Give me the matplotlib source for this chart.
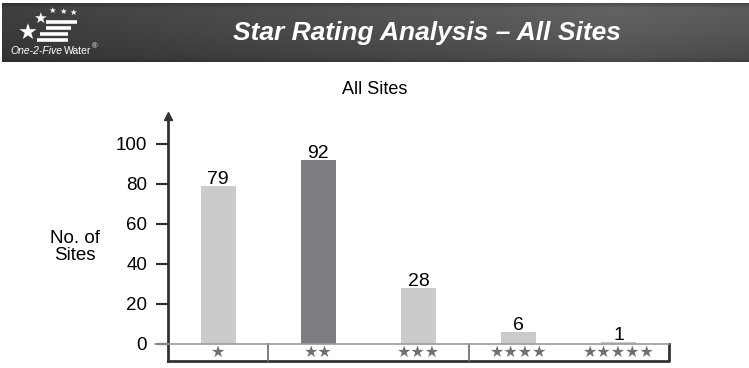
import numpy as np
import matplotlib
matplotlib.use("Agg")
import matplotlib.pyplot as plt

plt.rcParams["font.family"] = ["Liberation Sans", "DejaVu Sans"]

# star-rating counts, all sites
ratings = [1, 2, 3, 4, 5]
sites = [79, 92, 28, 6, 1]
bar_colors = ["#cbcbcb", "#7e7e82", "#cbcbcb", "#cbcbcb", "#cbcbcb"]
yticks = [0, 20, 40, 60, 80, 100]
title = "Star Rating Analysis – All Sites"
subtitle = "All Sites"

W, H = 749, 368
fig = plt.figure(figsize=(W / 100, H / 100), dpi=100)

# ---- header band (pixel coordinates) ----
bg = fig.add_axes([0, 0, 1, 1], zorder=0)
bg.set_xlim(0, W)
bg.set_ylim(H, 0)
bg.axis("off")
xs = np.linspace(0, 1, W)
ys = np.linspace(0, 1, 60)
shade_x = np.interp(xs, [0, 0.4, 0.82, 1], [0.23, 0.29, 0.36, 0.33])
shade_y = np.interp(ys, [0, 0.08, 0.5, 0.92, 1], [0.85, 1.08, 1.0, 0.88, 0.75])
band = np.clip(shade_y[:, None] * shade_x[None, :], 0, 1)
bg.imshow(np.dstack([band, band, band]), extent=(2, W, 62, 3), aspect="auto", interpolation="bilinear")

# logo: stars and stripes
for (x, y, s) in [(28, 34, 16), (40, 19, 11), (52, 11, 6), (63, 12, 6), (73, 13, 6)]:
    bg.text(x, y, "★", color="white", fontsize=s, ha="center", va="center")
for (x0, x1, y) in [(46, 77, 22), (46, 71, 28), (40, 68, 34), (37, 68, 40)]:
    bg.plot([x0, x1], [y, y], color="white", lw=2.6, solid_capstyle="butt")
t1 = bg.text(10, 54, "One-2-Five", color="white", fontsize=7.5, style="italic", va="baseline")
t2 = bg.annotate("Water", xy=(1, 0), xycoords=t1, xytext=(1.2, 0), textcoords="offset points",
                 color="white", fontsize=7.5, va="bottom")
bg.annotate("®", xy=(1, 1), xycoords=t2, xytext=(0.3, 2), textcoords="offset points",
            color="white", fontsize=5.5, va="top")
bg.text(427, 33, title, color="white", fontsize=19, weight="bold", style="italic",
        ha="center", va="center")

fig.text(374.5 / W, 1 - 90 / H, subtitle, ha="center", va="center", fontsize=13)
fig.text(75 / W, 1 - 247 / H, "No. of\nSites", ha="center", va="center", fontsize=13.5,
         linespacing=1.0)

# ---- chart ----
left, right, bottom, top = 168, 669, 361, 110
ax = fig.add_axes([left / W, (H - bottom) / H, (right - left) / W, (bottom - top) / H], zorder=1)
ax.patch.set_alpha(0)
ymin, ymax = -8.5, (344 - top) / 2
ax.set_xlim(0, 5)
ax.set_ylim(ymin, ymax)
for s in ["top", "right", "bottom"]:
    ax.spines[s].set_visible(False)
ax.spines["left"].set_bounds(ymin, 114)
ax.spines["left"].set_linewidth(2)
ax.spines["left"].set_color("#333333")
ax.plot([0], [114], marker="^", ms=6, color="#333333", clip_on=False)
ax.set_xticks([])
ax.set_yticks(yticks)
ax.tick_params(axis="y", direction="out", length=8.6, width=1.6, color="#333333",
               pad=6.5, labelsize=13.5)

xpos = np.arange(len(ratings)) + 0.5
ax.bar(xpos, sites, width=0.35, color=bar_colors, zorder=2)
for x, v in zip(xpos, sites):
    ax.text(x, v + 1, str(v), ha="center", va="baseline", fontsize=14)

# category strip under the baseline
ax.plot([-0.13, 5], [0, 0], color="#9a9a9a", lw=1.2, clip_on=False, zorder=3)
ax.plot([0, 5, 5], [ymin, ymin, 0], color="#333333", lw=2, clip_on=False)
for xd in [1, 3]:
    ax.plot([xd, xd], [ymin, 0], color="#666666", lw=1.2, clip_on=False)
for x, n in zip(xpos, ratings):
    ax.text(x, ymin / 2, "★" * n, ha="center", va="center", fontsize=11.5, color="#707070")

fig.savefig("out.png", dpi=100)
